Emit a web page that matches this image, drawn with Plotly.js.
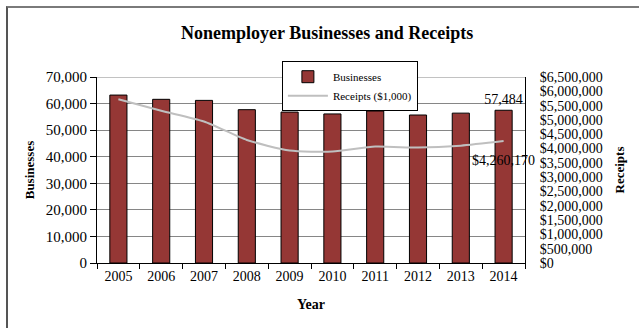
<!DOCTYPE html>
<html>
<head>
<meta charset="utf-8">
<script src="https://cdn.plot.ly/plotly-3.0.1.min.js"></script>
<style>
  body { margin: 0; padding: 0; background: #fff; }
  #wrap { position: relative; width: 639px; height: 328px; }
  #chart { width: 639px; height: 328px; }
  #frame { position: absolute; left: 6px; top: 6px; width: 640px; height: 330px;
           border-top: 2px solid #7a7a7a; border-left: 2px solid #555; pointer-events: none; }
</style>
</head>
<body>
<div id="wrap">
  <div id="chart"></div>
  <div id="frame"></div>
</div>
<script>
const years = ['2005','2006','2007','2008','2009','2010','2011','2012','2013','2014'];
const businesses = [63200, 61600, 61200, 57700, 56800, 56100, 57200, 55700, 56400, 57484];
const receipts = [5725000, 5320000, 4946000, 4300000, 3928000, 3893000, 4067000, 4032000, 4100000, 4260170];

const lastIdx = years.length - 1;
const barText = businesses.map((v, i) => i === lastIdx ? v.toLocaleString('en-US') : '');

const serif = 'Liberation Serif, Times New Roman, serif';

const traces = [
  {
    type: 'bar', name: 'Businesses', x: years, y: businesses,
    marker: { color: '#953735', line: { color: '#000', width: 1 } },
    text: barText, textposition: 'outside', cliponaxis: false, constraintext: 'none',
    textfont: { family: serif, size: 14, color: '#000' },
    hoverinfo: 'x+y'
  },
  {
    type: 'scatter', mode: 'lines', name: 'Receipts ($1,000)', x: years, y: receipts,
    yaxis: 'y2', line: { color: '#bfbfbf', width: 2, shape: 'spline', smoothing: 0.6 }
  }
];

const layout = {
  width: 639, height: 328,
  margin: { l: 97, r: 114, t: 77, b: 65 },
  paper_bgcolor: '#fff', plot_bgcolor: '#fff',
  font: { family: serif, color: '#000', size: 14 },
  showlegend: true,
  bargap: 0.6,
  title: {
    text: '<b>Nonemployer Businesses and Receipts</b>',
    font: { family: serif, size: 18, color: '#000' },
    x: 0.512, xanchor: 'center', y: 0.9, yanchor: 'middle'
  },
  legend: {
    x: 0.432, xanchor: 'left', y: 1.085, yanchor: 'top',
    bgcolor: '#fff', bordercolor: '#000', borderwidth: 1,
    font: { family: serif, size: 11, color: '#000' },
    itemwidth: 40
  },
  annotations: [{
    x: lastIdx, y: receipts[lastIdx], xref: 'x', yref: 'y2',
    text: '$' + receipts[lastIdx].toLocaleString('en-US'),
    showarrow: false, yshift: -19, xanchor: 'center', yanchor: 'middle',
    font: { family: serif, size: 14, color: '#000' }
  }],
  shapes: [{
    type: 'line', xref: 'paper', yref: 'y', x0: 0, x1: 1, y0: 70000, y1: 70000,
    line: { color: '#868686', width: 1 }
  }],
  xaxis: {
    type: 'category', range: [-0.5, years.length - 0.5],
    title: { text: '<b>Year</b>', font: { family: serif, size: 14 }, standoff: 16 },
    showline: true, linecolor: '#000', linewidth: 1,
    ticks: 'outside', tickson: 'boundaries', ticklen: 5, tickcolor: '#000',
    showgrid: false, tickfont: { family: serif, size: 14 }, tickangle: 0
  },
  yaxis: {
    range: [0, 70000], dtick: 10000, tickformat: ',d',
    title: { text: '<b>Businesses</b>', font: { family: serif, size: 13 }, standoff: 8 },
    showline: true, linecolor: '#000', linewidth: 1,
    ticks: 'outside', ticklen: 6, tickcolor: '#000',
    showgrid: true, gridcolor: '#868686', gridwidth: 1,
    zeroline: false, tickfont: { family: serif, size: 15 }
  },
  yaxis2: {
    overlaying: 'y', side: 'right',
    range: [0, 6500000], dtick: 500000, tickformat: ',d', tickprefix: '$',
    title: { text: '<b>Receipts</b>', font: { family: serif, size: 13 }, standoff: 13 },
    showline: true, linecolor: '#000', linewidth: 1,
    ticks: '', ticklabelstandoff: 11,
    showgrid: false, zeroline: false,
    tickfont: { family: serif, size: 14 }
  }
};

Plotly.newPlot('chart', traces, layout, { displayModeBar: false, staticPlot: true });
</script>
</body>
</html>
